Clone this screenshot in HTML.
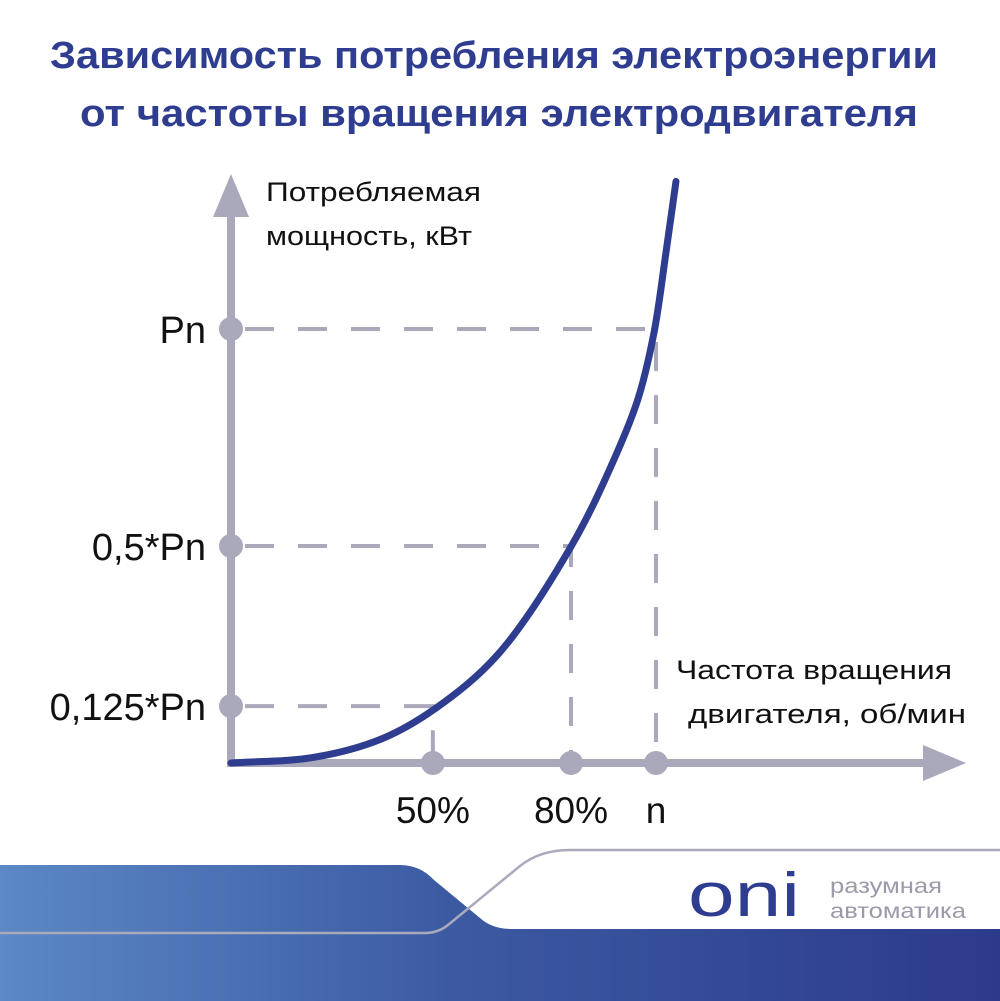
<!DOCTYPE html>
<html><head><meta charset="utf-8"><style>
html,body{margin:0;padding:0;background:#fff;}
svg{display:block;}
text{font-family:"Liberation Sans","DejaVu Sans",sans-serif;}
</style></head><body>
<svg width="1000" height="1001" viewBox="0 0 1000 1001">
<defs>
<linearGradient id="bg" x1="0" x2="1" y1="0" y2="0">
<stop offset="0" stop-color="#5b88c6"/><stop offset="0.45" stop-color="#3c5aa2"/><stop offset="1" stop-color="#2c3a8a"/>
</linearGradient>
</defs>
<g fill="#2e3d8f" font-weight="bold" font-size="38">
<text x="50" y="68" textLength="888" lengthAdjust="spacingAndGlyphs">Зависимость потребления электроэнергии</text>
<text x="80" y="126" textLength="838" lengthAdjust="spacingAndGlyphs">от частоты вращения электродвигателя</text>
</g>
<g id="plot"></g>
<text x="266" y="201" font-size="27" fill="#111" textLength="215" lengthAdjust="spacingAndGlyphs">Потребляемая</text>
<text x="266" y="245" font-size="27" fill="#111" textLength="206" lengthAdjust="spacingAndGlyphs">мощность, кВт</text>
<text x="676" y="679" font-size="27" fill="#111" textLength="276" lengthAdjust="spacingAndGlyphs">Частота вращения</text>
<text x="688" y="723" font-size="27" fill="#111" textLength="278" lengthAdjust="spacingAndGlyphs">двигателя, об/мин</text>
<g>
<path d="M0 865 L400 865 Q420 865 434 880 L480 918 Q492 929 512 929 L1000 929 L1000 1001 L0 1001 Z" fill="url(#bg)"/>
<path d="M0 933 L425 933 Q438 933 448 925 L520 866 Q540 850 570 850 L1000 850" fill="none" stroke="#aaaabc" stroke-width="2.5"/>
<text x="688" y="916" font-size="62" fill="#2e3d8f" textLength="112" lengthAdjust="spacingAndGlyphs">oni</text>
<text x="830" y="893" font-size="21" fill="#9a9aaa" textLength="112" lengthAdjust="spacingAndGlyphs">разумная</text>
<text x="830" y="918" font-size="21" fill="#9a9aaa" textLength="136" lengthAdjust="spacingAndGlyphs">автоматика</text>
</g>
</svg>
<script>
const freqs = [0, 19.5, 35.3, 48, 62.8, 80.2, 90.6, 95.8, 99.5, 102.4, 104.7];
const powers = [0, 0.013, 0.055, 0.125, 0.25, 0.502, 0.71, 0.84, 0.99, 1.18, 1.34];
const yTickValues = [1, 0.5, 0.131];
const yTickLabels = ["Pn", "0,5*Pn", "0,125*Pn"];
const xTickValues = [100, 80, 47.5];
const xTickLabels = ["n", "80%", "50%"];

const x0 = 231, y0 = 763;
const sx = v => x0 + v * (656 - 231) / 100;
const sy = v => y0 - v * (763 - 329);
const NS = "http://www.w3.org/2000/svg";
const g = document.getElementById('plot');
function mk(tag, attrs) { const e = document.createElementNS(NS, tag); for (const k in attrs) e.setAttribute(k, attrs[k]); g.appendChild(e); return e; }
const AX = "#a9a9bb";
yTickValues.forEach((v, i) => {
  const xv = xTickValues[i];
  const l = mk('path', {d: `M${x0} ${sy(v)} H${sx(xv)} V${y0}`, fill: 'none', stroke: AX, 'stroke-width': 4, 'stroke-dasharray': '29 24', 'stroke-dashoffset': -14});
  
  
});
let a = mk('line', {x1: x0, y1: y0 + 4, x2: x0, y2: 205, stroke: AX, 'stroke-width': 8});


a = mk('polygon', {points: '231,174 213,217 249,217', fill: AX});


a = mk('line', {x1: x0 - 4, y1: y0, x2: 935, y2: y0, stroke: AX, 'stroke-width': 8});


a = mk('polygon', {points: '966,763 923,745 923,781', fill: AX});


yTickValues.forEach((v, i) => {
  const c = mk('circle', {cx: x0, cy: sy(v), r: 12, fill: AX});
  
  
  const t = mk('text', {x: 206, y: sy(v) + 14, 'font-size': 38, 'text-anchor': 'end', fill: '#111'});
  t.textContent = yTickLabels[i];
  
  
});
xTickValues.forEach((v, i) => {
  const c = mk('circle', {cx: sx(v), cy: y0, r: 12, fill: AX});
  
  
  const t = mk('text', {x: sx(v), y: 823, 'font-size': 37, 'text-anchor': 'middle', fill: '#111'});
  t.textContent = xTickLabels[i];
  
  
});
// centripetal Catmull-Rom through data points
const P = freqs.map((f, i) => [sx(f), sy(powers[i])]);
const n = P.length;
const ext = [[2*P[0][0]-P[1][0], 2*P[0][1]-P[1][1]], ...P, [2*P[n-1][0]-P[n-2][0], 2*P[n-1][1]-P[n-2][1]]];
const dist = (A, B) => Math.max(1e-6, Math.pow(Math.hypot(A[0]-B[0], A[1]-B[1]), 0.5));
let d = `M${P[0][0]} ${P[0][1]}`;
for (let i = 1; i < ext.length - 2; i++) {
  const p0 = ext[i-1], p1 = ext[i], p2 = ext[i+1], p3 = ext[i+2];
  const d1 = dist(p0, p1), d2 = dist(p1, p2), d3 = dist(p2, p3);
  const b1 = [0, 1].map(k => (d1*d1*p2[k] - d2*d2*p0[k] + (2*d1*d1 + 3*d1*d2 + d2*d2)*p1[k]) / (3*d1*(d1+d2)));
  const b2 = [0, 1].map(k => (d3*d3*p1[k] - d2*d2*p3[k] + (2*d3*d3 + 3*d3*d2 + d2*d2)*p2[k]) / (3*d3*(d3+d2)));
  d += ` C${b1[0]} ${b1[1]} ${b2[0]} ${b2[1]} ${p2[0]} ${p2[1]}`;
}
const cv = mk('path', {d: d, fill: 'none', stroke: '#2e3d8f', 'stroke-width': 7, 'stroke-linecap': 'round'});


</script>
</body></html>
